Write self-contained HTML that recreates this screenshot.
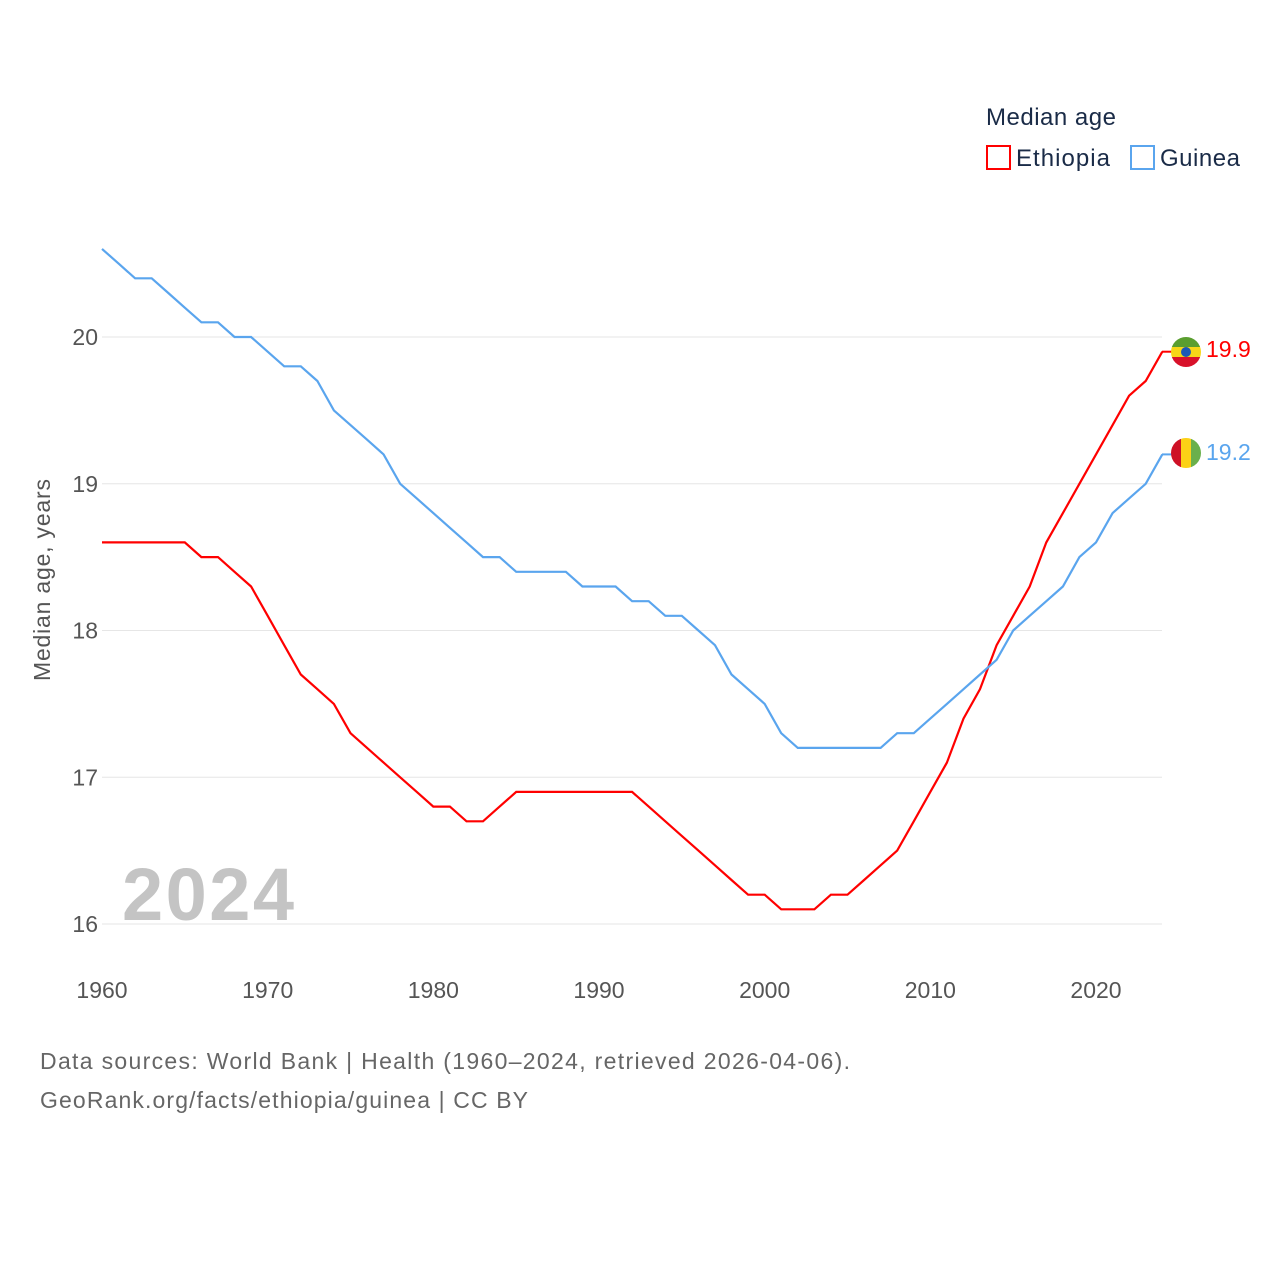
<!DOCTYPE html>
<html><head><meta charset="utf-8"><style>
body{margin:0;background:#fff;font-family:"Liberation Sans",sans-serif}
</style></head><body>
<svg width="1280" height="1280" viewBox="0 0 1280 1280" xmlns="http://www.w3.org/2000/svg">
<defs>
<clipPath id="c1"><circle cx="1186" cy="352" r="15"/></clipPath>
<clipPath id="c2"><circle cx="1186" cy="453" r="15"/></clipPath>
</defs>
<g id="grid"></g>
<g id="yt"></g>
<g id="xt"></g>
<text x="50" y="580" transform="rotate(-90 50 580)" text-anchor="middle" font-size="23" fill="#555" textLength="202">Median age, years</text>
<text x="122" y="920" font-size="74" font-weight="bold" fill="#c4c4c4" textLength="172">2024</text>
<path id="eth" fill="none" stroke="#ff0000" stroke-width="2.2"/>
<path id="gui" fill="none" stroke="#5aa5ee" stroke-width="2.2"/>
<line x1="1162" y1="351.7" x2="1172" y2="351.7" stroke="#ff0000" stroke-width="2"/>
<line x1="1162" y1="454.4" x2="1172" y2="454.4" stroke="#5aa5ee" stroke-width="2"/>
<g clip-path="url(#c1)">
<rect x="1170" y="336" width="32" height="11" fill="#5a9e2f"/><rect x="1170" y="347" width="32" height="10" fill="#f7d618"/><rect x="1170" y="357" width="32" height="11" fill="#d8112a"/><circle cx="1186" cy="352" r="5" fill="#1c59b5"/></g>
<g clip-path="url(#c2)">
<rect x="1170" y="437" width="11" height="32" fill="#ce1126"/><rect x="1181" y="437" width="10" height="32" fill="#fcd116"/><rect x="1191" y="437" width="11" height="32" fill="#6ab04c"/></g>
<text x="1206" y="357" font-size="23" fill="#ff0000">19.9</text>
<text x="1206" y="460" font-size="23" fill="#5aa5ee">19.2</text>
<text x="986" y="125" font-size="24" fill="#1a2b47" textLength="130">Median age</text>
<g><rect x="987" y="146" width="23" height="23" fill="none" stroke="#ff0000" stroke-width="2"/><text x="1016" y="166" font-size="24" fill="#1a2b47" textLength="94">Ethiopia</text></g>
<g><rect x="1131" y="146" width="23" height="23" fill="none" stroke="#5aa5ee" stroke-width="2"/><text x="1160" y="166" font-size="24" fill="#1a2b47" textLength="80">Guinea</text></g>
<text x="40" y="1069" font-size="23" fill="#666" textLength="810">Data sources: World Bank | Health (1960–2024, retrieved 2026-04-06).</text>
<text x="40" y="1108" font-size="23" fill="#666" textLength="488">GeoRank.org/facts/ethiopia/guinea | CC BY</text>
</svg>
<script>
const years=[];for(let y=1960;y<=2024;y++)years.push(y);
const ethiopia=[18.6,18.6,18.6,18.6,18.6,18.6,18.5,18.5,18.4,18.3,18.1,17.9,17.7,17.6,17.5,17.3,17.2,17.1,17.0,16.9,16.8,16.8,16.7,16.7,16.8,16.9,16.9,16.9,16.9,16.9,16.9,16.9,16.9,16.8,16.7,16.6,16.5,16.4,16.3,16.2,16.2,16.1,16.1,16.1,16.2,16.2,16.3,16.4,16.5,16.7,16.9,17.1,17.4,17.6,17.9,18.1,18.3,18.6,18.8,19.0,19.2,19.4,19.6,19.7,19.9];
const guinea=[20.6,20.5,20.4,20.4,20.3,20.2,20.1,20.1,20.0,20.0,19.9,19.8,19.8,19.7,19.5,19.4,19.3,19.2,19.0,18.9,18.8,18.7,18.6,18.5,18.5,18.4,18.4,18.4,18.4,18.3,18.3,18.3,18.2,18.2,18.1,18.1,18.0,17.9,17.7,17.6,17.5,17.3,17.2,17.2,17.2,17.2,17.2,17.2,17.3,17.3,17.4,17.5,17.6,17.7,17.8,18.0,18.1,18.2,18.3,18.5,18.6,18.8,18.9,19.0,19.2];
const yTicks=[16,17,18,19,20];
const xTicks=[1960,1970,1980,1990,2000,2010,2020];
const X=y=>102+(y-1960)*(1096-102)/60;
const Y=v=>924-(v-16)*146.75;
const NS="http://www.w3.org/2000/svg";
const grid=document.getElementById('grid'),yt=document.getElementById('yt'),xt=document.getElementById('xt');
yTicks.forEach(t=>{
 const l=document.createElementNS(NS,'line');
 l.setAttribute('x1',102);l.setAttribute('x2',1162);l.setAttribute('y1',Y(t));l.setAttribute('y2',Y(t));
 l.setAttribute('stroke','#e6e6e6');l.setAttribute('stroke-width','1');
 
 
 grid.appendChild(l);
 const tx=document.createElementNS(NS,'text');
 tx.setAttribute('x',98);tx.setAttribute('y',Y(t)+8);tx.setAttribute('text-anchor','end');
 tx.setAttribute('font-size','23');tx.setAttribute('fill','#555');tx.textContent=t;
 
 
 yt.appendChild(tx);
});
xTicks.forEach(t=>{
 const tx=document.createElementNS(NS,'text');
 tx.setAttribute('x',X(t));tx.setAttribute('y',998);tx.setAttribute('text-anchor','middle');
 tx.setAttribute('font-size','23');tx.setAttribute('fill','#555');tx.textContent=t;
 
 
 xt.appendChild(tx);
});
const path=a=>a.map((v,i)=>(i?'L':'M')+X(years[i]).toFixed(1)+','+Y(v).toFixed(1)).join(' ');
document.getElementById('eth').setAttribute('d',path(ethiopia));
document.getElementById('gui').setAttribute('d',path(guinea));
</script>
</body></html>
